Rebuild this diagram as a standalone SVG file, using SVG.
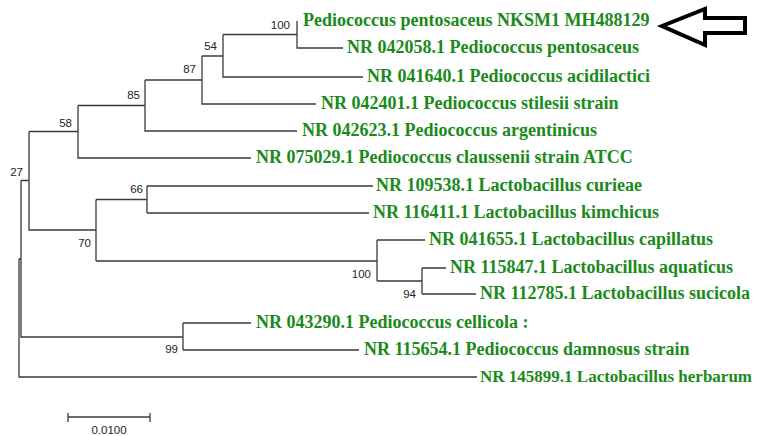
<svg xmlns="http://www.w3.org/2000/svg" width="761" height="436" viewBox="0 0 761 436">
<style>
.br{fill:none;stroke:#3a3a3a;stroke-width:1.3}
.lb{font-family:"Liberation Serif","Times New Roman",serif;font-weight:bold;font-size:18px;fill:#1a8a1a}
.bs{font-family:"Liberation Sans",Arial,sans-serif;font-size:11.5px;fill:#222;text-anchor:end}
</style>
<rect width="761" height="436" fill="#fff"/>
<g id="connectors" class="br">
<path d="M297,21 V48 H343"/>
<path d="M223,34.5 H297 M223,34.5 V77 H363"/>
<path d="M202,56 H223 M202,56 V104 H316"/>
<path d="M145,80 H202 M145,80 V131 H297"/>
<path d="M78,105.5 H145 M78,105.5 V158 H251"/>
<path d="M29,131.5 H78 M29,131.5 V230 H96"/>
<path d="M96,199.5 V261"/>
<path d="M96,199.5 H147 M147,186 V213 M147,186 H373 M147,213 H369"/>
<path d="M96,261 H377 M377,240 V281 M377,240 H425 M377,281 H422"/>
<path d="M422,268 V294 M422,268 H446 M422,294 H476"/>
<path d="M21,180.5 H29 M21,180.5 V337 H183"/>
<path d="M183,323 V350 M183,323 H251 M183,350 H359"/>
<path d="M19,258.75 H21 M19,258.75 V377 H477"/>
</g>
<g id="leaves">
<text id="n1" class="lb" x="303" y="26">Pediococcus pentosaceus NKSM1 MH488129</text>
<text id="n2" class="lb" x="347" y="53">NR 042058.1 Pediococcus pentosaceus</text>
<text id="n3" class="lb" x="367" y="82">NR 041640.1 Pediococcus acidilactici</text>
<text id="n4" class="lb" x="321" y="109">NR 042401.1 Pediococcus stilesii strain</text>
<text id="n5" class="lb" x="302" y="136">NR 042623.1 Pediococcus argentinicus</text>
<text id="n6" class="lb" x="256" y="163">NR 075029.1 Pediococcus claussenii strain ATCC</text>
<text id="n7" class="lb" x="376" y="191">NR 109538.1 Lactobacillus curieae</text>
<text id="n8" class="lb" x="373" y="218">NR 116411.1 Lactobacillus kimchicus</text>
<text id="n9" class="lb" x="429" y="245">NR 041655.1 Lactobacillus capillatus</text>
<text id="n10" class="lb" x="450" y="273">NR 115847.1 Lactobacillus aquaticus</text>
<text id="n11" class="lb" x="480" y="299">NR 112785.1 Lactobacillus sucicola</text>
<text id="n12" class="lb" x="256" y="328">NR 043290.1 Pediococcus cellicola :</text>
<text id="n13" class="lb" x="364" y="355">NR 115654.1 Pediococcus damnosus strain</text>
<text id="n14" class="lb" x="480" y="382" style="font-size:17px">NR 145899.1 Lactobacillus herbarum</text>
</g>
<g id="bootstrap">
<text class="bs" x="290" y="29">100</text>
<text class="bs" x="217" y="50">54</text>
<text class="bs" x="196" y="73">87</text>
<text class="bs" x="140" y="99">85</text>
<text class="bs" x="72" y="127">58</text>
<text class="bs" x="23" y="176">27</text>
<text class="bs" x="143" y="193">66</text>
<text class="bs" x="91" y="247">70</text>
<text class="bs" x="371" y="278">100</text>
<text class="bs" x="416" y="298">94</text>
<text class="bs" x="178" y="353">99</text>
</g>
<g id="scalebar">
<path class="br" d="M68,417 H150 M68,413 V422 M150,413 V422"/>
<text class="bs" x="109" y="434" style="text-anchor:middle">0.0100</text>
</g>
<g id="arrow">
<polygon points="662,26 705,9 705,18 745,18 745,33 705,33 705,45" fill="#fff" stroke="#000" stroke-width="4" stroke-linejoin="miter"/>
</g>
</svg>
